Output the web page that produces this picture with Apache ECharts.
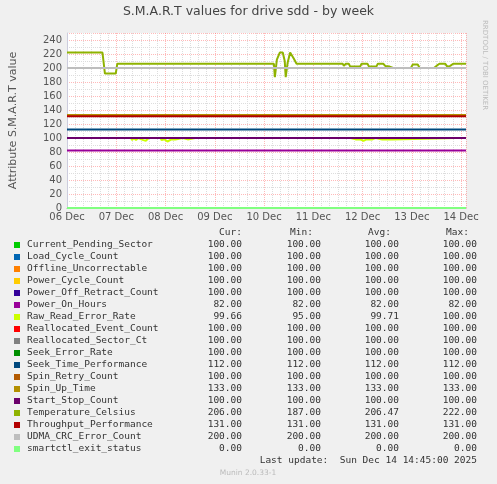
<!DOCTYPE html>
<html>
<head>
<meta charset="UTF-8">
<script src="https://cdn.jsdelivr.net/npm/echarts@6/dist/echarts.min.js"></script>
<style>
  * { margin: 0; padding: 0; }
  html, body { width: 497px; height: 484px; background: #f0f0f0; }
  #chart { width: 497px; height: 484px; }
</style>
</head>
<body>
<div id="chart"></div>
<script>
  // x is days since 06 Dec 00:00
  var dayLabels = ['06 Dec', '07 Dec', '08 Dec', '09 Dec', '10 Dec', '11 Dec', '12 Dec', '13 Dec', '14 Dec'];
  var names = ['Current_Pending_Sector', 'Load_Cycle_Count', 'Offline_Uncorrectable', 'Power_Cycle_Count',
    'Power_Off_Retract_Count', 'Power_On_Hours', 'Raw_Read_Error_Rate', 'Reallocated_Event_Count',
    'Reallocated_Sector_Ct', 'Seek_Error_Rate', 'Seek_Time_Performance', 'Spin_Retry_Count', 'Spin_Up_Time',
    'Start_Stop_Count', 'Temperature_Celsius', 'Throughput_Performance', 'UDMA_CRC_Error_Count', 'smartctl_exit_status'];
  var colors = ['#00cc00', '#0066b3', '#ff8000', '#ffcc00', '#330099', '#990099', '#ccff00', '#ff0000',
    '#808080', '#008f00', '#00487d', '#b35a00', '#b38f00', '#6b006b', '#8fb300', '#b30000', '#bebebe', '#80ff80'];
  var curVals = ['100.00', '100.00', '100.00', '100.00', '100.00', '82.00', '99.66', '100.00', '100.00', '100.00', '112.00', '100.00', '133.00', '100.00', '206.00', '131.00', '200.00', '0.00'];
  var minVals = ['100.00', '100.00', '100.00', '100.00', '100.00', '82.00', '95.00', '100.00', '100.00', '100.00', '112.00', '100.00', '133.00', '100.00', '187.00', '131.00', '200.00', '0.00'];
  var avgVals = ['100.00', '100.00', '100.00', '100.00', '100.00', '82.00', '99.71', '100.00', '100.00', '100.00', '112.00', '100.00', '133.00', '100.00', '206.47', '131.00', '200.00', '0.00'];
  var maxVals = ['100.00', '100.00', '100.00', '100.00', '100.00', '82.00', '100.00', '100.00', '100.00', '100.00', '112.00', '100.00', '133.00', '100.00', '222.00', '131.00', '200.00', '0.00'];
  // flat series level
  var levels = [100, 100, 100, 100, 100, 82, null, 100, 100, 100, 112, 100, 133, 100, null, 131, 200, 0];

  var tempData = [[0, 222], [0.72, 222], [0.74, 210], [0.77, 192], [0.99, 192], [1.02, 206], [4.2, 206], [4.22, 187],
    [4.26, 212], [4.32, 222], [4.38, 222], [4.42, 210], [4.44, 187], [4.48, 208], [4.53, 222], [4.6, 214], [4.66, 206],
    [5.6, 206], [5.62, 203], [5.66, 206], [5.72, 206], [5.75, 202], [5.95, 202], [5.98, 206], [6.1, 206], [6.13, 202],
    [6.28, 202], [6.31, 206], [6.42, 206], [6.46, 203], [6.55, 202], [6.62, 200], [6.98, 200], [7.02, 205], [7.12, 205],
    [7.16, 200], [7.45, 200], [7.5, 203], [7.56, 206], [7.68, 206], [7.72, 202], [7.78, 203], [7.84, 206], [8.1, 206]];
  var rawData = [[0, 100], [1.3, 100], [1.32, 97], [1.36, 100], [1.4, 97], [1.45, 100], [1.55, 97], [1.6, 96],
    [1.66, 100], [1.9, 100], [1.92, 97], [1.98, 98], [2.02, 100], [2.04, 95], [2.12, 98], [2.2, 98], [2.24, 100],
    [2.35, 100], [2.37, 98], [2.45, 98], [2.48, 100], [2.6, 100], [2.62, 98], [2.65, 100], [3.1, 100], [3.12, 98],
    [3.16, 100], [5.05, 100], [5.08, 98], [5.12, 100], [5.3, 100], [5.33, 98], [5.36, 100], [5.5, 100], [5.53, 98],
    [5.56, 100], [5.75, 100], [5.78, 98], [5.86, 98], [5.9, 100], [5.95, 98], [6.02, 96], [6.08, 98], [6.12, 100],
    [6.2, 98], [6.26, 100], [6.4, 98], [6.44, 100], [6.6, 98], [6.64, 100], [7.9, 100], [7.92, 98], [7.95, 100], [8.1, 100]];

  var series = names.map(function (n, i) {
    var d = levels[i] === null ? (i === 6 ? rawData : tempData) : [[0, levels[i]], [8.1, levels[i]]];
    return {
      name: n, type: 'line', data: d, showSymbol: false, silent: true, animation: false,
      lineStyle: { color: colors[i], width: 2 }, itemStyle: { color: colors[i] }
    };
  });

  var mono = 'DejaVu Sans Mono';
  var gfx = [
    { type: 'text', left: 'center', top: 5, style: { text: 'S.M.A.R.T values for drive sdd - by week', font: '12.5px DejaVu Sans', fill: '#444' } },
    { type: 'text', x: 488, y: 20, rotation: -Math.PI / 2, style: { text: 'RRDTOOL / TOBI OETIKER', font: '7px DejaVu Sans', fill: '#bbb' } },
    { type: 'text', x: 242, y: 233, style: { text: 'Cur:', font: '9.5px ' + mono, fill: '#333', align: 'right', verticalAlign: 'middle' } },
    { type: 'text', x: 313, y: 233, style: { text: 'Min:', font: '9.5px ' + mono, fill: '#333', align: 'right', verticalAlign: 'middle' } },
    { type: 'text', x: 391, y: 233, style: { text: 'Avg:', font: '9.5px ' + mono, fill: '#333', align: 'right', verticalAlign: 'middle' } },
    { type: 'text', x: 469, y: 233, style: { text: 'Max:', font: '9.5px ' + mono, fill: '#333', align: 'right', verticalAlign: 'middle' } },
    { type: 'text', x: 477, y: 461, style: { text: 'Last update:  Sun Dec 14 14:45:00 2025', font: '9.5px ' + mono, fill: '#333', align: 'right', verticalAlign: 'middle' } },
    { type: 'text', x: 248, y: 473, style: { text: 'Munin 2.0.33-1', font: '7.5px DejaVu Sans', fill: '#bbb', align: 'center', verticalAlign: 'middle' } }
  ];
  names.forEach(function (n, i) {
    var y = 245 + i * 12;
    gfx.push({ type: 'rect', shape: { x: 14, y: y - 3, width: 6, height: 6 }, style: { fill: colors[i] } });
    gfx.push({ type: 'text', x: 27, y: y, style: { text: n, font: '9.5px ' + mono, fill: '#333', verticalAlign: 'middle' } });
    [[curVals, 242], [minVals, 321], [avgVals, 399], [maxVals, 477]].forEach(function (c) {
      gfx.push({ type: 'text', x: c[1], y: y, style: { text: c[0][i], font: '9.5px ' + mono, fill: '#333', align: 'right', verticalAlign: 'middle' } });
    });
  });

  var chart = echarts.init(document.getElementById('chart'));
  chart.setOption({
    backgroundColor: '#f0f0f0',
    animation: false,
    grid: { left: 65, right: 31, top: 33, bottom: 276, backgroundColor: '#fff', show: true, borderWidth: 0 },
    xAxis: {
      type: 'value', min: 0, max: 8.1, interval: 1,
      axisLine: { lineStyle: { color: '#aaa' } }, axisTick: { show: false },
      axisLabel: { color: '#555', fontSize: 10, fontFamily: 'DejaVu Sans', showMaxLabel: false, margin: 4,
        formatter: function (v) { return dayLabels[Math.round(v)] || ''; } },
      splitLine: { show: true, lineStyle: { color: 'rgba(255,80,80,0.4)', type: 'dotted' } },
      minorSplitLine: { show: true, lineStyle: { color: '#ddd', type: 'dotted' } },
      minorTick: { show: false, splitNumber: 6 }
    },
    yAxis: {
      type: 'value', min: 0, max: 250, interval: 20,
      name: 'Attribute S.M.A.R.T value', nameLocation: 'middle', nameGap: 48,
      nameTextStyle: { color: '#555', fontSize: 11, fontFamily: 'DejaVu Sans' },
      axisLine: { show: true, lineStyle: { color: '#ccd' } }, axisTick: { show: false },
      axisLabel: { color: '#555', fontSize: 10, fontFamily: 'DejaVu Sans', margin: 5, showMaxLabel: false },
      splitLine: { show: true, lineStyle: { color: 'rgba(255,80,80,0.4)', type: 'dotted' } },
      minorSplitLine: { show: true, lineStyle: { color: '#ddd', type: 'dotted' } },
      minorTick: { show: false, splitNumber: 2 }
    },
    graphic: gfx,
    series: series
  });
</script>
</body>
</html>
